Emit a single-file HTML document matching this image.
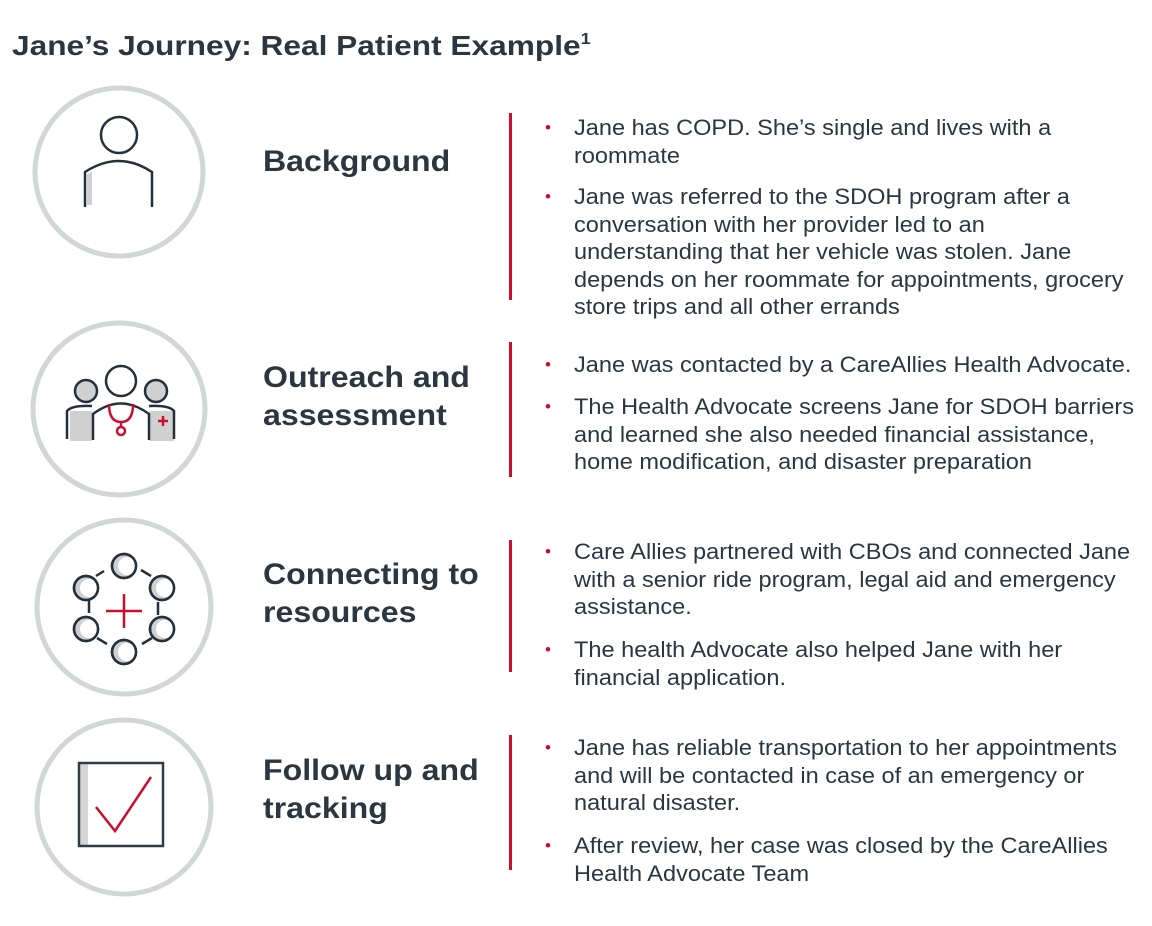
<!DOCTYPE html>
<html><head><meta charset="utf-8"><style>
body{margin:0;width:1152px;height:926px;background:#fff;position:relative;font-family:"Liberation Sans",Arial,sans-serif;color:#2b3640;overflow:hidden}
.a{position:absolute}
.t{display:inline-block;transform-origin:0 0;white-space:nowrap}
h1{position:absolute;left:12px;top:23px;margin:0;font-size:28px;font-weight:bold;line-height:34px}
h1 .t{transform:scaleX(1.13)}
h1 sup{font-size:16px;vertical-align:11px}
.h{position:absolute;left:263px;font-size:30px;font-weight:bold;line-height:38px}
.h .t{transform:scaleX(1.07)}
.r{position:absolute;left:509px;width:3px;background:#c8102e}
.b{position:absolute;left:574px;font-size:22px;line-height:27.5px}
.b .t{transform:scaleX(1.07)}
.b:before{content:"•";color:#c8102e;position:absolute;left:-29px;font-size:17px}
</style></head><body>
<h1><span class="t">Jane’s Journey: Real Patient Example<sup>1</sup></span></h1>
<svg class="a" style="left:0;top:0" width="260" height="926">
<g fill="none" stroke="#d3d6d6" stroke-width="5">
<circle cx="119" cy="172" r="84"/><circle cx="119" cy="409" r="86"/>
<circle cx="124" cy="607" r="87"/><circle cx="124" cy="807" r="87"/></g>
<g fill="none" stroke="#24313c" stroke-width="2.5">
<circle cx="119" cy="135" r="18"/>
<path d="M85 207V172Q119 150 152 172V207"/>
</g>
<path d="M87 175L92 171V205H87Z" fill="#d0d0d0"/>
<g fill="#d0d0d0"><circle cx="86" cy="391" r="11"/><circle cx="156" cy="391" r="11"/>
<path d="M70 411h22v30h-22z M149 411h25v30h-25z"/></g>
<g fill="none" stroke="#24313c" stroke-width="2.5">
<circle cx="86" cy="391" r="11"/><circle cx="156" cy="391" r="11"/><circle cx="121" cy="381" r="15"/>
<path d="M67 439V411Q72 405 92 406 M174 439V411Q169 405 149 406 M93 440V414Q121 393 149 414V440"/>
</g>
<g fill="none" stroke="#c8102e" stroke-width="2.5"><path d="M109 404Q109 422 121 422Q133 422 133 404 M121 422V428"/><circle cx="121" cy="431" r="4"/>
<path d="M163 416v10M158 421h10"/></g>
<g stroke="#24313c" stroke-width="2.5" fill="#d0d0d0">
<path d="M141 570l10 6M158 602v13M152 638l-10 6M107 644l-10-6M89 613v-13M96 576l8-5" fill="none"/>
<circle cx="124" cy="566" r="12"/><circle cx="162" cy="588" r="12"/><circle cx="162" cy="629" r="12"/>
<circle cx="124" cy="652" r="12"/><circle cx="86" cy="629" r="12"/><circle cx="86" cy="588" r="12"/></g>
<g fill="#fff"><circle cx="127" cy="566" r="9"/><circle cx="165" cy="588" r="9"/><circle cx="165" cy="629" r="9"/>
<circle cx="127" cy="652" r="9"/><circle cx="89" cy="629" r="9"/><circle cx="89" cy="588" r="9"/></g>
<g fill="none" stroke="#24313c" stroke-width="2.5"><circle cx="124" cy="566" r="12"/><circle cx="162" cy="588" r="12"/><circle cx="162" cy="629" r="12"/>
<circle cx="124" cy="652" r="12"/><circle cx="86" cy="629" r="12"/><circle cx="86" cy="588" r="12"/></g>
<path d="M106 611h36M124 594v34" stroke="#c8102e" stroke-width="2.5"/>
<rect x="80" y="763" width="8" height="82" fill="#d6d6d6"/>
<rect x="79" y="763" width="84" height="83" fill="none" stroke="#2f3d48" stroke-width="2.5"/>
<path d="M96 807L115 831L151 777" fill="none" stroke="#c8102e" stroke-width="2.5"/>
</svg>
<div class="h" style="top:143px"><span class="t">Background</span></div>
<div class="h" style="top:359px"><span class="t">Outreach and<br>assessment</span></div>
<div class="h" style="top:556px"><span class="t">Connecting to<br>resources</span></div>
<div class="h" style="top:752px"><span class="t">Follow up and<br>tracking</span></div>
<div class="r" style="top:113px;height:187px"></div>
<div class="r" style="top:342px;height:135px"></div>
<div class="r" style="top:540px;height:132px"></div>
<div class="r" style="top:735px;height:135px"></div>
<div class="b" style="top:114px"><span class="t">Jane has COPD. She’s single and lives with a<br>roommate</span></div>
<div class="b" style="top:183px"><span class="t">Jane was referred to the SDOH program after a<br>conversation with her provider led to an<br>understanding that her vehicle was stolen. Jane<br>depends on her roommate for appointments, grocery<br>store trips and all other errands</span></div>
<div class="b" style="top:351px"><span class="t">Jane was contacted by a CareAllies Health Advocate.</span></div>
<div class="b" style="top:393px"><span class="t">The Health Advocate screens Jane for SDOH barriers<br>and learned she also needed financial assistance,<br>home modification, and disaster preparation</span></div>
<div class="b" style="top:538px"><span class="t">Care Allies partnered with CBOs and connected Jane<br>with a senior ride program, legal aid and emergency<br>assistance.</span></div>
<div class="b" style="top:636px"><span class="t">The health Advocate also helped Jane with her<br>financial application.</span></div>
<div class="b" style="top:734px"><span class="t">Jane has reliable transportation to her appointments<br>and will be contacted in case of an emergency or<br>natural disaster.</span></div>
<div class="b" style="top:832px"><span class="t">After review, her case was closed by the CareAllies<br>Health Advocate Team</span></div>
</body></html>
